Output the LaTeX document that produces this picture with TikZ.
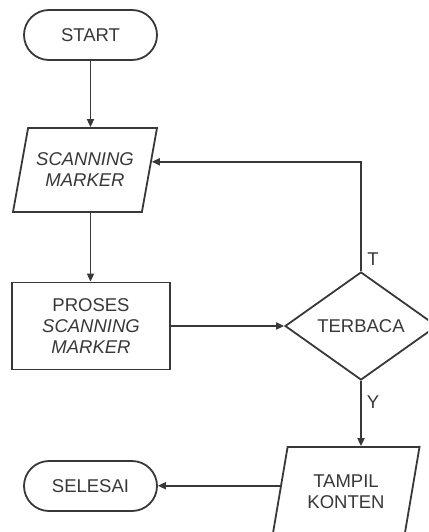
\documentclass[tikz,border=0pt]{standalone}
\usepackage{fontspec}
\setmainfont{Liberation Sans}
\usetikzlibrary{arrows.meta,shapes.geometric}
\definecolor{ink}{HTML}{383838}
\begin{document}
\begin{tikzpicture}[x=1pt,y=-1pt,
  every node/.style={font=\fontsize{18.5}{21}\selectfont, text=ink},
  base/.style={draw=ink, line width=1.8pt, align=center, inner sep=0pt},
  term/.style={base, rounded corners=25pt, minimum width=133pt, minimum height=50pt},
  procbox/.style={base, minimum width=158pt, minimum height=87pt},
  iobox/.style={base, trapezium, trapezium left angle=66, trapezium right angle=114, trapezium stretches body, minimum width=144pt, minimum height=84pt},
  decbox/.style={base, diamond, aspect=1.4, minimum width=152pt, minimum height=108pt},
  arr/.style={draw=ink, line width=1.8pt, -{Triangle[length=8pt,width=7pt]}},
  lab/.style={inner sep=0pt}
]
\clip (0,0) rectangle (428,532);
\node[term] (start) at (90.5,35) {START};
\node[iobox] (scan) at (85,170) {\itshape SCANNING\\\itshape MARKER};
\node[procbox] (proc) at (91,326) {PROSES\\\itshape SCANNING\\\itshape MARKER};
\node[decbox] (dec) at (361,326) {TERBACA};
\node[iobox, minimum width=147pt, minimum height=89pt] (tampil) at (346,491.5) {TAMPIL\\KONTEN};
\node[term] (selesai) at (90.5,486) {SELESAI};
\node[lab] (tl) at (373,259) {T};
\node[lab] (yl) at (373,402) {Y};
\draw[arr] (start) -- (start |- scan.north);
\draw[arr] (start |- scan.south) -- (start |- proc.north);
\draw[arr] (proc.east) -- (dec.west);
\draw[arr] (dec.north) |- (scan.7);
\draw[arr] (dec.south) -- (dec.south |- tampil.north);
\draw[arr] (tampil.175) -- (tampil.175 -| selesai.east);
\end{tikzpicture}
\end{document}
